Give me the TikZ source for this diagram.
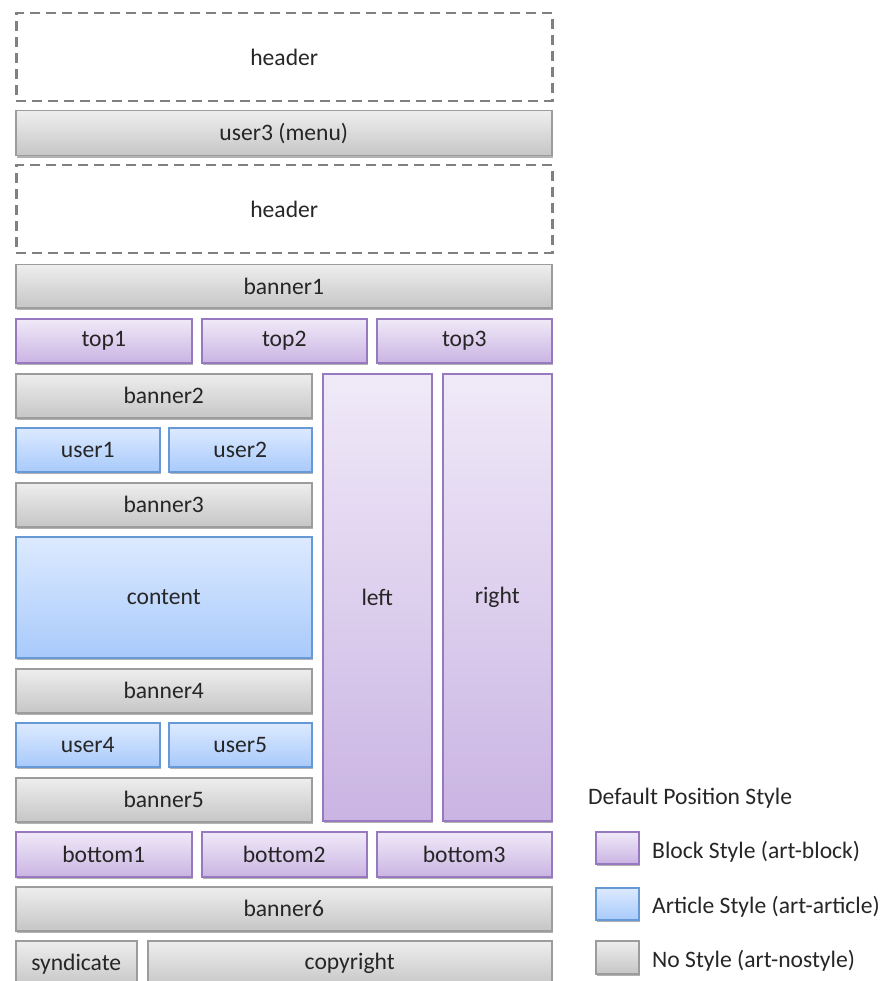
\documentclass[tikz,border=0pt]{standalone}
\usepackage{fontspec}
\setmainfont{Carlito}
\usetikzlibrary{shadows}
\definecolor{grayTop}{HTML}{EEEEEE}
\definecolor{grayBot}{HTML}{C6C6C6}
\definecolor{grayLine}{HTML}{9C9C9C}
\definecolor{purTop}{HTML}{F0EAF8}
\definecolor{purBot}{HTML}{CAB4E3}
\definecolor{purLine}{HTML}{9679BE}
\definecolor{bluTop}{HTML}{DDEAFF}
\definecolor{bluBot}{HTML}{A8CAFB}
\definecolor{bluLine}{HTML}{6699D6}
\definecolor{dashLine}{HTML}{808080}
\definecolor{txt}{HTML}{262626}
\tikzset{
  base/.style={rectangle, anchor=north west, inner sep=0pt, line width=1.5pt, text=txt,
    font=\fontsize{23.6}{28}\selectfont,
    drop shadow={shadow xshift=1.5pt, shadow yshift=-2pt, opacity=0.3, fill=black}},
  nostyle/.style={base, draw=grayLine, top color=grayTop, bottom color=grayBot},
  block/.style={base, draw=purLine, top color=purTop, bottom color=purBot},
  article/.style={base, draw=bluLine, top color=bluTop, bottom color=bluBot},
  hdr/.style={rectangle, anchor=north west, inner sep=0pt, draw=dashLine, line width=2.5pt,
    dash pattern=on 10pt off 6pt, text=txt, font=\fontsize{23.6}{28}\selectfont},
  legtext/.style={anchor=west, inner sep=0pt, text=txt, font=\fontsize{23.6}{28}\selectfont}
}
\newcommand{\bx}[7]{\node[#6, minimum width={(#4)-(#2)}, minimum height={(#5)-(#3)}] (#1) at (#2,#3) {#7};}
\begin{document}
\begin{tikzpicture}[x=1pt,y=-1pt]
\useasboundingbox (0,0) rectangle (885,981);
\bx{header1}{15}{12}{551}{100}{hdr}{header}
\bx{user3}{15}{110}{551}{155}{nostyle}{user3 (menu)}
\bx{header2}{15}{164}{551}{252}{hdr}{header}
\bx{banner1}{15}{264}{551}{307}{nostyle}{banner1}
\bx{top1}{15}{318}{191}{362}{block}{top1}
\bx{top2}{201}{318}{366}{362}{block}{top2}
\bx{top3}{376}{318}{551}{362}{block}{top3}
\bx{left}{322}{373}{431}{820}{block}{left}
\bx{right}{442}{373}{551}{820}{block}{right}
\bx{banner2}{15}{373}{311}{417}{nostyle}{banner2}
\bx{user1}{15}{427}{159}{471}{article}{user1}
\bx{user2}{168}{427}{311}{471}{article}{user2}
\bx{banner3}{15}{482}{311}{526}{nostyle}{banner3}
\bx{content}{15}{536}{311}{657}{article}{content}
\bx{banner4}{15}{668}{311}{712}{nostyle}{banner4}
\bx{user4}{15}{722}{159}{766}{article}{user4}
\bx{user5}{168}{722}{311}{766}{article}{user5}
\bx{banner5}{15}{777}{311}{821}{nostyle}{banner5}
\bx{bottom1}{15}{831}{191}{876}{block}{bottom1}
\bx{bottom2}{201}{831}{366}{876}{block}{bottom2}
\bx{bottom3}{376}{831}{551}{876}{block}{bottom3}
\bx{banner6}{15}{886}{551}{930}{nostyle}{banner6}
\bx{syndicate}{15}{940}{136}{986}{nostyle}{\raisebox{3pt}{syndicate}}
\bx{copyright}{147}{940}{551}{986}{nostyle}{\raisebox{3pt}{copyright}}
% legend
\node[legtext] (legtitle) at (588,798) {Default Position Style};
\bx{swblock}{595}{831}{638}{863}{block}{}
\bx{swarticle}{595}{887}{638}{919}{article}{}
\bx{swnostyle}{595}{940}{638}{973}{nostyle}{}
\node[legtext] (lblock) at (652,852) {Block Style (art-block)};
\node[legtext] (larticle) at (652,907) {Article Style (art-article)};
\node[legtext] (lnostyle) at (652,961) {No Style (art-nostyle)};
\end{tikzpicture}
\end{document}
